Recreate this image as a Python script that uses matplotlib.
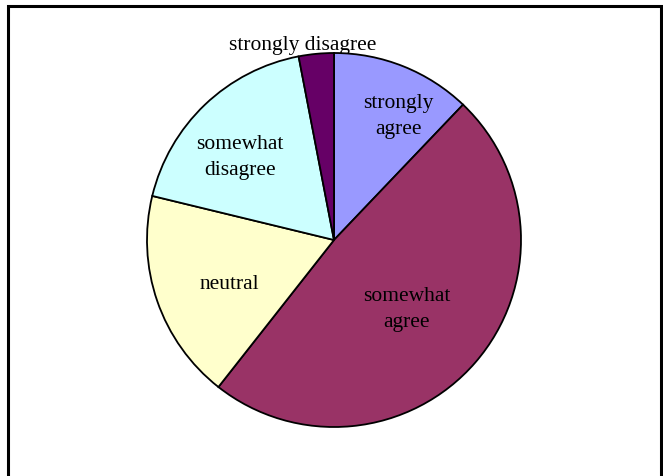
import numpy as np
import matplotlib
matplotlib.use("Agg")
import matplotlib.pyplot as plt
from matplotlib.patches import Rectangle

labels = ["strongly\nagree", "somewhat\nagree", "neutral", "somewhat\ndisagree", "strongly disagree"]
values = [4, 16, 6, 6, 1]
colors = ["#9999FF", "#993366", "#FFFFCC", "#CCFFFF", "#660066"]
# label placement: distance from centre (in radii) and angle shift (deg, clockwise)
label_r = [0.742, 0.537, 0.611, 0.671, 1.054]
label_shift = [5.7, 2.5, -4.1, -5.0, -3.8]

W, H = 663, 476
cx, cy, R = 334, 240, 187

fig = plt.figure(figsize=(W / 100, H / 100), dpi=100)
ax = fig.add_axes([0, 0, 1, 1])

wedges, _ = ax.pie(values, colors=colors, startangle=90, counterclock=False,
                   radius=1, center=(0, 0), frame=True,
                   wedgeprops=dict(edgecolor="black", linewidth=1.3))
for w in wedges:
    w.set_zorder(3)
ax.axis("off")
ax.set_aspect("equal")
ax.set_xlim(-cx / R, (W - cx) / R)
ax.set_ylim((cy - H) / R, cy / R)

total = sum(values)
start = 0.0
for i, v in enumerate(values):
    frac = v / total * 360
    mid = start + frac / 2 + label_shift[i]
    a = np.radians(mid)
    x = label_r[i] * np.sin(a)
    y = label_r[i] * np.cos(a)
    ax.text(x, y, labels[i], ha="center", va="center", fontsize=15.5,
            family="Liberation Serif", color="black", zorder=2 if i == 4 else 4,
            linespacing=1.5)
    start += frac

fig.patches.append(Rectangle((8 / W, -0.1), (661 - 8) / W, 1.1 - 6 / H,
                             transform=fig.transFigure, fill=False,
                             edgecolor="black", linewidth=2.2))

fig.savefig("out.png", dpi=100)
